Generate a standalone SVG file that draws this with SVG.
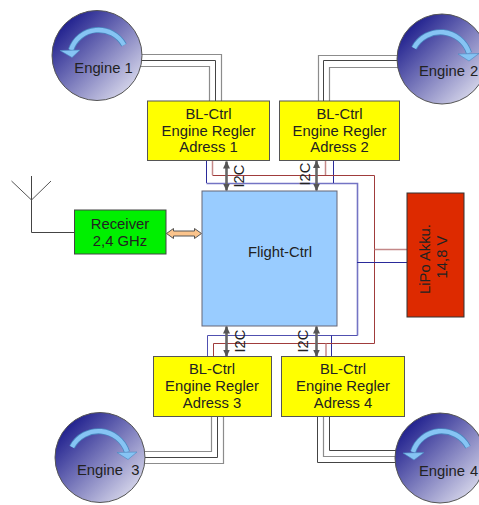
<svg xmlns="http://www.w3.org/2000/svg" width="479" height="505" viewBox="0 0 479 505">
<defs>
<linearGradient id="eng" x1="0.12" y1="0.12" x2="0.88" y2="0.88"><stop offset="0" stop-color="#1c1c8c"/><stop offset="1" stop-color="#d6d6ea"/></linearGradient>
<marker id="ah" viewBox="0 0 8 8" refX="7" refY="4" markerWidth="8" markerHeight="8" markerUnits="userSpaceOnUse" orient="auto-start-reverse"><path d="M0 0.500L7.500 4L0 7.500Z" fill="#555"/></marker>
</defs>
<style>
text{font-family:"Liberation Sans",Arial,sans-serif;font-size:14.8px;fill:#222;text-anchor:middle;white-space:pre}
.st{text-anchor:start}
.eng{fill:url(#eng);stroke:#555;stroke-width:1}
.box{fill:#ff0;stroke:#555;stroke-width:1}
.g{fill:none;stroke:#8c8c8c;stroke-width:1.2}
.k{fill:none;stroke:#444;stroke-width:1}
.bl{fill:none;stroke:#7474c4;stroke-width:1.6}
.bm{fill:none;stroke:#5050b0;stroke-width:1}
.bd{fill:none;stroke:#2a2a9a;stroke-width:1}
.r{fill:none;stroke:#a03c3c;stroke-width:1}
.rl{fill:none;stroke:#c48888;stroke-width:1.5}
.i2c{fill:none;stroke:#666;stroke-width:2.6;marker-start:url(#ah);marker-end:url(#ah)}
.arc{fill:none;stroke:#4a88c0;stroke-width:6}
.arc2{fill:none;stroke:#86c4f4;stroke-width:4.4}
.hd{fill:#86c4f4;stroke:#4a88c0;stroke-width:.6}
</style>
<g id="connectors">
<path class="g" d="M141 54.500H221.500V101"/><path class="k" d="M141 60.500H215.500V101"/><path class="g" d="M141 66.500H209.500V101"/>
<path class="g" d="M398 55.500H318.500V101"/><path class="k" d="M398 60.500H323.500V101"/><path class="g" d="M398 67.500H329.500V101"/>
<path class="g" d="M144 451.500H211.500V416"/><path class="k" d="M144 457.500H217.500V416"/><path class="g" d="M144 463.500H223.500V416"/>
<path class="k" d="M396 450.500H329.500V416"/><path class="g" d="M396 456.500H323.500V416"/><path class="k" d="M396 462.500H317.500V416"/>
<path class="bd" d="M206.500 160V183"/><path class="bl" d="M206.500 183.500H357.500V335.500"/><path class="bm" d="M357.500 335.500H207.500V357"/>
<path class="bd" d="M333.500 160V183"/><path class="bd" d="M331.500 335.500V357"/>
<path class="rl" d="M212.500 160V175"/><path class="r" d="M212.500 175.500H374.500V343.500H213.500V357"/>
<path class="rl" d="M325.500 160V175"/><path class="rl" d="M326 343.500V357"/>
<path class="rl" d="M374.500 249.500H407"/><path class="bd" d="M357 262.500H407"/>
<path class="i2c" d="M226.500 161.500V190.500"/><path class="i2c" d="M316.500 161V190.500"/>
<path class="i2c" d="M226.500 326.500V356.500"/><path class="i2c" d="M316.500 326.500V356.500"/>
<path d="M31.500 176V232.500H74.500" fill="none" stroke="#444" stroke-width="1"/>
<path d="M11.500 181L31.500 200L51 181" fill="none" stroke="#555" stroke-width="1"/>
<path d="M166.500 233.500L173.500 228.500V231H194.500V228.500L201.500 233.500L194.500 238.500V236H173.500V238.500Z" fill="#fbc48c" stroke="#555" stroke-width="1"/>
</g>
<g id="engine1"><circle class="eng" cx="97" cy="55.500" r="45"/>
<path class="arc" d="M124 45A29 29 0 0 0 71 50"/><path class="arc2" d="M124 45A29 29 0 0 0 71 50"/><path class="hd" d="M60 50.500L80 50L72 57.500Z"/>
<text x="103.500" y="73">Engine 1</text></g>
<g id="engine2"><circle class="eng" cx="442" cy="59" r="45"/>
<path class="arc" d="M414 48A30 30 0 0 1 469 53"/><path class="arc2" d="M414 48A30 30 0 0 1 469 53"/><path class="hd" d="M458 54L479 53.500L469 61Z"/>
<text class="st" x="419" y="76">Engine <tspan x="470">2</tspan></text></g>
<g id="engine3"><circle class="eng" cx="100" cy="457.500" r="45"/>
<path class="arc" d="M72 447A30 30 0 0 1 127 452"/><path class="arc2" d="M72 447A30 30 0 0 1 127 452"/><path class="hd" d="M117 452.500L137 452L128 459.500Z"/>
<text class="st" x="77" y="475">Engine  3</text></g>
<g id="engine4"><circle class="eng" cx="440" cy="458" r="45"/>
<path class="arc" d="M468 447A30 30 0 0 0 413 452"/><path class="arc2" d="M468 447A30 30 0 0 0 413 452"/><path class="hd" d="M403 453L424 452.500L414 460Z"/>
<text class="st" x="419" y="476">Engine <tspan x="470">4</tspan></text></g>
<g id="bl1"><rect class="box" x="147.500" y="101" width="122" height="59.500"/><text x="208.500" y="119">BL-Ctrl</text><text x="208.500" y="136">Engine Regler</text><text x="208.500" y="152">Adress 1</text></g>
<g id="bl2"><rect class="box" x="279.500" y="101" width="120" height="59.500"/><text x="339.500" y="119">BL-Ctrl</text><text x="339.500" y="136">Engine Regler</text><text x="339.500" y="152">Adress 2</text></g>
<g id="bl3"><rect class="box" x="153.500" y="356.500" width="118" height="60"/><text x="212" y="374">BL-Ctrl</text><text x="212" y="391">Engine Regler</text><text x="212" y="408">Adress 3</text></g>
<g id="bl4"><rect class="box" x="281.500" y="356.500" width="123" height="60"/><text x="343" y="374">BL-Ctrl</text><text x="343" y="391">Engine Regler</text><text x="343" y="408">Adress 4</text></g>
<g id="flight"><rect x="202" y="191" width="135" height="135" fill="#99ccff" stroke="#667" stroke-width="1"/><text x="280" y="257">Flight-Ctrl</text></g>
<g id="receiver"><rect x="74.500" y="210" width="91.500" height="44" fill="#00f000" stroke="#444" stroke-width="1"/><text x="120" y="229">Receiver</text><text x="120" y="246">2,4 GHz</text></g>
<g id="lipo"><rect x="407" y="193" width="57" height="124" fill="#dd2a00" stroke="#333" stroke-width="1"/>
<text transform="translate(430 259) rotate(-90)">LiPo Akku.</text><text transform="translate(447 257) rotate(-90)">14,8 V</text></g>
<g id="labels">
<text transform="translate(243.500 176) rotate(-90)">I2C</text><text transform="translate(310 174) rotate(-90)">I2C</text>
<text transform="translate(244.500 341) rotate(-90)">I2C</text><text transform="translate(308 341) rotate(-90)">I2C</text>
</g>
</svg>
